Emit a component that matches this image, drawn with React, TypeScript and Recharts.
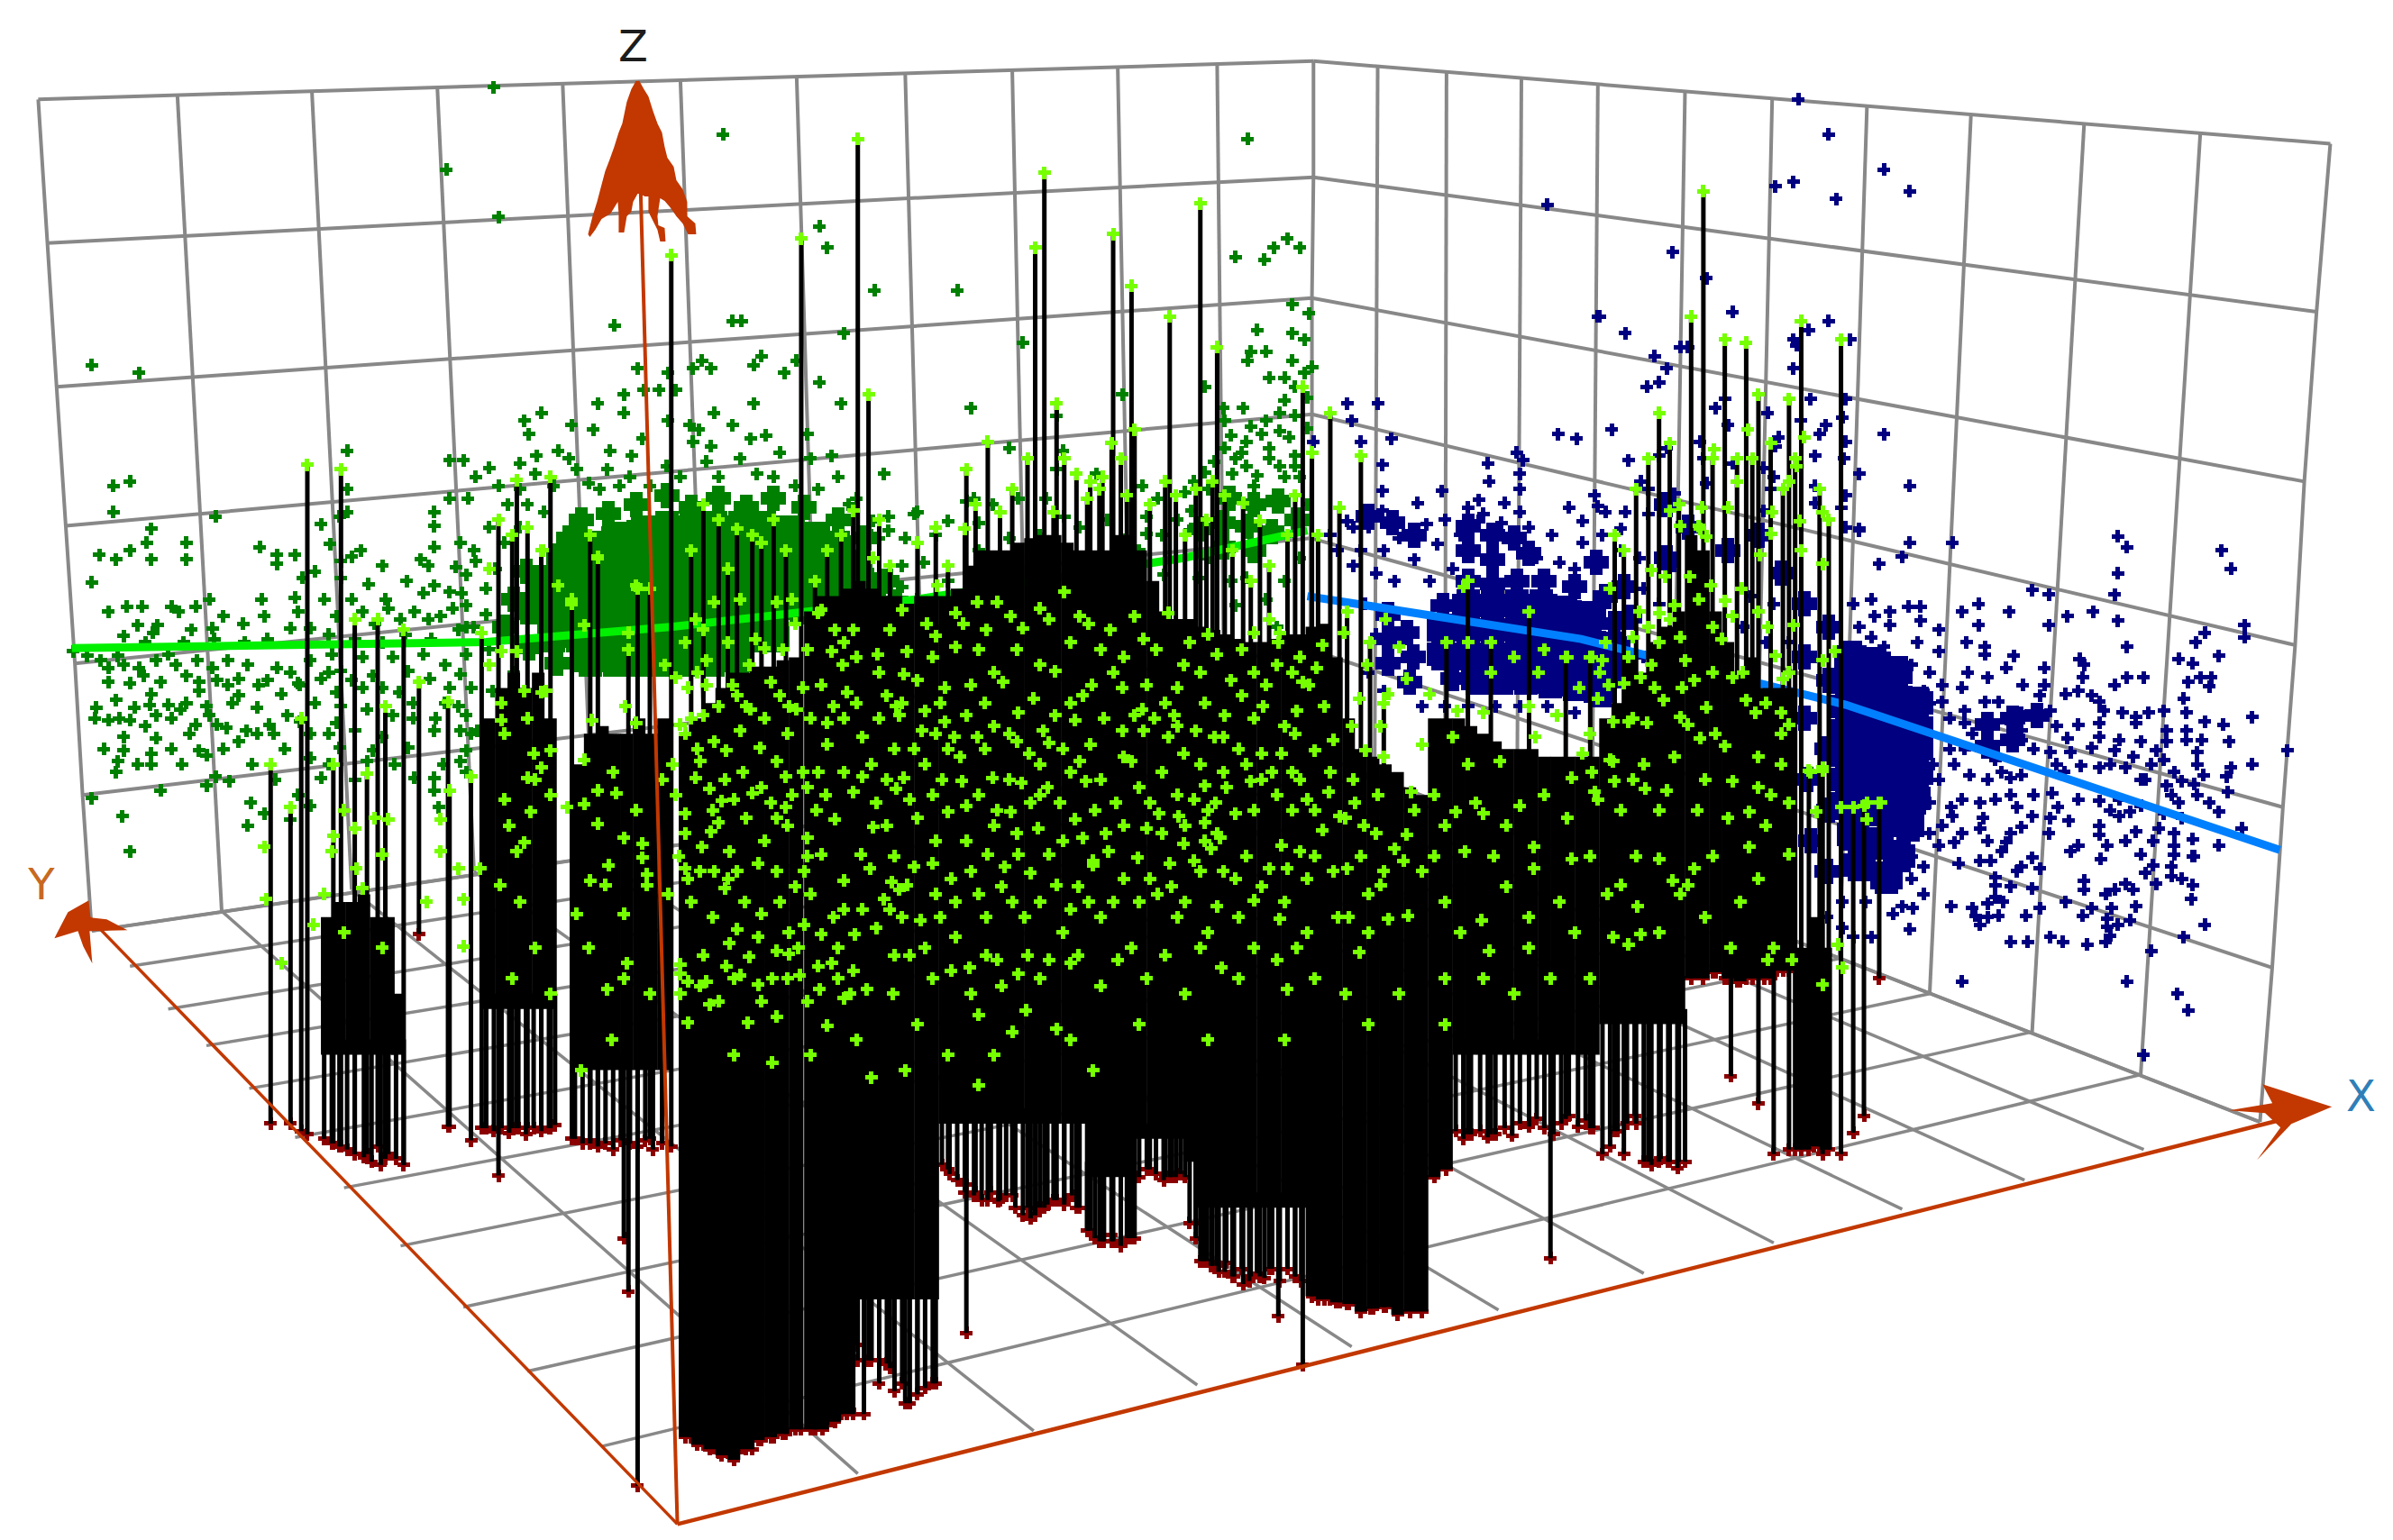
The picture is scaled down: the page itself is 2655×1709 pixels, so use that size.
import React from 'react';
import { ScatterChart, Scatter, XAxis, YAxis, ErrorBar, ReferenceDot } from 'recharts';

type Pair = number[];

// everything in one projected plane: [across, down]
const wallTop: Pair[] = [[25, 65], [859, 40], [1524, 94]];
const leftEdge: Pair[] = [[25, 65], [31, 159], [37, 253], [43, 344], [49, 434], [54, 520], [60, 609]];
const backEdge: Pair[] = [[859, 40], [859, 116], [858, 195], [858, 271], [857, 352], [857, 425], [857, 492]];
const rightEdge: Pair[] = [[1524, 94], [1515, 204], [1507, 315], [1501, 422], [1493, 528], [1486, 633], [1478, 734]];

const leftTopX = [116, 204, 286, 368, 445, 521, 592, 662, 731, 796];
const leftTopY = [62, 60, 57, 55, 53, 50, 48, 46, 44, 42];
const leftFootX = [145, 230, 310, 388, 463, 536, 605, 672, 740, 801];
const leftFootY = [596, 582, 570, 559, 548, 537, 527, 517, 507, 498];

const rightTopX = [901, 946, 995, 1045, 1102, 1159, 1221, 1289, 1363, 1439];
const rightTopY = [43, 47, 51, 55, 59, 64, 69, 75, 81, 87];
const rightFootX = [899, 945, 992, 1041, 1093, 1147, 1203, 1262, 1329, 1400];
const rightFootY = [508, 526, 545, 564, 584, 605, 627, 650, 675, 703];

const yAxisTickX = [85, 110, 135, 163, 193, 225, 262, 303, 345, 394];
const yAxisTickY = [632, 660, 684, 712, 744, 777, 815, 855, 897, 946];
const xAxisTickX = [561, 676, 783, 884, 980, 1075, 1160, 1244, 1324, 1402];
const xAxisTickY = [964, 936, 906, 881, 857, 833, 813, 791, 772, 752];

const zAxis: Pair[] = [[443, 997], [417, 53]];
const yAxisLine: Pair[] = [[443, 997], [58, 600]];
const xAxisLine: Pair[] = [[443, 997], [1490, 733]];

const greenTrend: Pair[] = [[47, 424], [318, 420], [440, 410], [600, 392], [774, 365], [855, 347]];
const blueTrend: Pair[] = [[855, 390], [1034, 418], [1207, 461], [1491, 556]];

const greenPoints: Pair[] = [
  [323, 57], [292, 111], [326, 142], [473, 88], [60, 239], [91, 244], [402, 213], [479, 210], [485, 210], [459, 236], [498, 233], [417, 241], [437, 244], [453, 241], [465, 241], [493, 239], [513, 244], [521, 236], [421, 255], [431, 255], [442, 255], [408, 258], [391, 264], [493, 264], [354, 270], [343, 275], [408, 270], [346, 284], [374, 278], [388, 281], [437, 275], [451, 278], [479, 278], [467, 270], [457, 281], [420, 287], [491, 287], [501, 285], [453, 289], [465, 292], [227, 295], [294, 301], [303, 301], [365, 295], [351, 298], [399, 295], [413, 298], [340, 303], [320, 306], [311, 312], [377, 307], [397, 307], [74, 318], [85, 315], [326, 318], [227, 320], [294, 326], [306, 326], [74, 335], [141, 338], [227, 335], [222, 338], [284, 335], [284, 344], [99, 346], [210, 343],
  [96, 355], [122, 355], [85, 360], [65, 363], [76, 366], [99, 366], [122, 366], [170, 358], [181, 363], [193, 363], [181, 369], [60, 381], [198, 378], [171, 392], [193, 391], [137, 392], [71, 400], [83, 397], [93, 397], [112, 397], [128, 397], [117, 400], [146, 403], [90, 409], [103, 409], [125, 412], [100, 414], [159, 408], [173, 403], [190, 411], [81, 416], [139, 411],
  [48, 426], [57, 429], [77, 429], [71, 437], [81, 435], [91, 437], [102, 432], [115, 435], [129, 432], [139, 437], [149, 432], [162, 435], [181, 437], [156, 444], [169, 448], [71, 446], [85, 447], [105, 446], [130, 446], [130, 452], [149, 448], [184, 454], [195, 447], [99, 454], [76, 458], [63, 463], [88, 463], [98, 461], [110, 461], [122, 460], [135, 462], [152, 460], [168, 463], [118, 464], [71, 471], [85, 471], [102, 468], [137, 468], [142, 474], [161, 478], [176, 474], [188, 468], [196, 472], [179, 480], [81, 482], [102, 483], [156, 485], [81, 491], [130, 491], [135, 494], [99, 493], [77, 498], [99, 500], [119, 500], [76, 505], [141, 508], [150, 511], [135, 514], [105, 517], [60, 522], [164, 525], [173, 532], [80, 534], [162, 540], [190, 536], [85, 557],
  [230, 364], [223, 367], [206, 374], [241, 382], [223, 378], [252, 392], [277, 388], [298, 371], [311, 367], [284, 383], [294, 387], [305, 376], [301, 355], [275, 366], [284, 358], [203, 411], [220, 403], [237, 400], [254, 398], [271, 400], [288, 403], [305, 396], [217, 428], [203, 432], [237, 430], [257, 430], [277, 428], [291, 435], [305, 428], [223, 439], [210, 444], [244, 442], [267, 439], [281, 444], [301, 441], [196, 448], [220, 453], [237, 450], [261, 453], [294, 450], [308, 450], [206, 460], [223, 462], [240, 464], [257, 468], [291, 460], [305, 468], [220, 473], [203, 480], [284, 478], [301, 478], [308, 480], [222, 489], [244, 491], [267, 489], [305, 491], [203, 496], [240, 498], [301, 498], [284, 509], [305, 505], [210, 509], [271, 509], [284, 517], [203, 527], [287, 528],
  [816, 91], [572, 190], [626, 190], [536, 148], [541, 162], [842, 156], [833, 162], [850, 162], [808, 168], [827, 170], [845, 199], [856, 205], [552, 218], [669, 224], [822, 216], [845, 218], [853, 222], [818, 230], [828, 230], [816, 236], [845, 236], [536, 250], [550, 264], [635, 267], [734, 258], [788, 253], [830, 247], [840, 247], [853, 244], [847, 253], [840, 262], [800, 267], [813, 267], [837, 270], [847, 272], [691, 272], [660, 293], [695, 295], [544, 298], [578, 310], [801, 293], [830, 293], [843, 286], [801, 275], [818, 279], [828, 275], [837, 282], [815, 289], [825, 284], [808, 300], [815, 305], [822, 311], [837, 305], [847, 298], [847, 305], [850, 312], [794, 302], [788, 309], [781, 315], [747, 318], [757, 326], [717, 310], [666, 326], [691, 307], [637, 326], [649, 330], [598, 336], [620, 341], [581, 338], [571, 341], [696, 338], [750, 338], [779, 334], [600, 335], [581, 347], [551, 340], [537, 347], [632, 328], [750, 349], [734, 353], [778, 347], [784, 378], [815, 378], [818, 362], [761, 376], [808, 396], [828, 392], [835, 410], [734, 392],
  [340, 320], [362, 318], [385, 316], [412, 312], [436, 305], [462, 302], [484, 300], [510, 296], [530, 300], [548, 312], [528, 284], [506, 312], [560, 326], [332, 330], [356, 335], [320, 345], [310, 360], [324, 372], [302, 388], [318, 402], [320, 425], [336, 440], [322, 452], [300, 462], [312, 478], [592, 352], [604, 368], [590, 384], [576, 400], [612, 350], [640, 342], [660, 352], [684, 326], [706, 345], [724, 340],
  [66, 432], [94, 442], [110, 428], [122, 442], [142, 445], [156, 455], [175, 445], [190, 440], [62, 470], [78, 470], [95, 475], [112, 470], [128, 474], [148, 476], [168, 480], [186, 490], [68, 490], [90, 500], [112, 490], [124, 480], [146, 490], [165, 500], [180, 510], [195, 520], [215, 440], [230, 445], [250, 450], [270, 460], [285, 470], [215, 480], [232, 478], [250, 482], [270, 470], [215, 500], [232, 510], [258, 500], [290, 500], [250, 420], [265, 415], [215, 415], [232, 418], [282, 418], [300, 412], [160, 420], [175, 418], [120, 420], [95, 420], [140, 418], [195, 400], [212, 392], [230, 392], [245, 408], [262, 405], [280, 405], [296, 398], [310, 410], [280, 370], [266, 380], [250, 370], [236, 360], [216, 356],
  [350, 310], [372, 300], [392, 320], [405, 318], [425, 318], [445, 312], [470, 312], [495, 310], [520, 318], [535, 320], [555, 330], [570, 350], [340, 345], [330, 355], [345, 330], [318, 385], [305, 410], [575, 352], [590, 370], [600, 392], [610, 410], [620, 380], [640, 360], [660, 370], [680, 350], [700, 362], [720, 375], [805, 285], [812, 296], [830, 300], [840, 312], [820, 318], [806, 310], [790, 320], [775, 322], [770, 340], [760, 350], [745, 360], [790, 365], [805, 380], [840, 380], [850, 365], [855, 330], [855, 280], [855, 260], [858, 240]
];

const greenBulk: Pair[] = [
  [388, 358], [404, 352], [420, 348], [436, 345], [452, 345], [468, 345], [484, 345], [500, 345], [516, 348], [532, 352], [548, 358],
  [368, 366], [384, 362], [400, 362], [416, 362], [432, 362], [448, 362], [464, 362], [480, 362], [496, 362], [512, 362], [528, 362], [544, 362], [560, 370],
  [356, 380], [372, 380], [388, 380], [404, 380], [420, 380], [436, 380], [452, 380], [468, 380], [484, 380], [500, 380], [516, 380], [532, 380], [548, 380], [564, 382],
  [348, 398], [364, 398], [380, 398], [396, 398], [412, 398], [428, 398], [444, 398], [460, 398], [476, 398], [492, 398], [508, 398], [524, 398], [540, 398], [556, 398], [572, 398],
  [362, 416], [378, 416], [394, 416], [410, 416], [426, 416], [442, 416], [458, 416], [474, 416], [490, 416], [506, 416],
  [386, 432], [402, 432], [418, 432], [434, 432], [450, 432], [466, 432], [482, 432]
];

const greenPatches: Pair[] = [
  [416, 330], [436, 324], [452, 332], [470, 326], [488, 332], [506, 326], [526, 332], [380, 340], [398, 336], [548, 340], [566, 352], [372, 352], [344, 374], [336, 392], [330, 410], [346, 424], [364, 434], [580, 380], [586, 394],
  [804, 326], [820, 330], [836, 328], [848, 340], [816, 344], [832, 348], [800, 342], [786, 346], [820, 360], [800, 358]
];

const navyPoints: Pair[] = [
  [1176, 65], [1196, 88], [1232, 111], [1249, 125], [1161, 122], [1173, 119], [1201, 130], [1094, 165], [1116, 182], [1045, 207], [1133, 204], [1063, 218], [1196, 210], [1183, 216], [1173, 222], [1210, 222], [1175, 226], [1099, 227], [1104, 227], [1082, 233], [1090, 241], [1173, 241], [1085, 250], [1077, 253], [1184, 261], [1207, 261], [1128, 261], [1122, 267], [1156, 270], [1205, 273], [1178, 275], [1054, 281], [1232, 284], [1130, 278], [1194, 278], [1190, 284], [1163, 286], [1112, 289], [1090, 293], [1207, 289], [1161, 292], [1085, 298], [1187, 298], [1206, 300], [1065, 301], [1114, 300], [1133, 303], [1153, 306], [1216, 310], [1160, 312], [1073, 315], [1116, 316], [1249, 318], [1187, 318], [1158, 320], [1207, 324], [1043, 324], [1078, 320], [1095, 323], [1187, 329], [1204, 332], [1045, 331], [1050, 335], [1063, 335], [1078, 336], [1153, 334], [1207, 345], [1216, 346], [1060, 346],
  [1012, 134], [1046, 207], [881, 264], [901, 264], [884, 275], [910, 287], [890, 289], [859, 289], [1019, 284], [1031, 287], [1054, 281], [992, 296], [996, 301], [973, 303], [904, 304], [994, 310], [974, 315], [994, 320], [904, 321], [943, 321], [967, 327], [927, 329], [904, 334], [960, 332], [984, 329], [994, 335], [1026, 332], [1035, 341], [881, 341], [933, 343], [967, 341],
  [1216, 347], [1249, 355], [1277, 355], [1244, 364], [1229, 369], [1385, 351], [1391, 358], [1453, 360], [1459, 372], [1385, 375], [1329, 386], [1340, 389], [1383, 389], [1294, 395], [1283, 400], [1314, 400], [1352, 403], [1369, 400], [1385, 406], [1340, 409], [1294, 409], [1224, 392], [1236, 400], [1248, 397], [1256, 397], [1226, 403], [1236, 409], [1256, 406], [1268, 412], [1468, 409], [1442, 414], [1468, 417], [1436, 420], [1224, 417], [1254, 420], [1286, 420], [1298, 423], [1391, 423], [1232, 423], [1268, 426], [1298, 428], [1317, 429], [1360, 431], [1451, 429], [1425, 431], [1434, 434], [1363, 435], [1337, 437], [1312, 437], [1287, 440], [1391, 443], [1402, 443], [1439, 443], [1446, 443], [1300, 443], [1362, 443], [1431, 446], [1383, 448], [1323, 448], [1337, 448], [1445, 449], [1283, 450], [1258, 452], [1270, 448], [1359, 452], [1368, 455], [1351, 454], [1428, 457], [1334, 455], [1373, 459], [1298, 459], [1307, 459], [1270, 459], [1473, 469], [1430, 466], [1388, 466], [1397, 469], [1405, 466], [1415, 465], [1341, 465], [1285, 465], [1322, 466], [1376, 465], [1442, 472], [1454, 474], [1359, 474], [1373, 473], [1315, 473], [1322, 478], [1285, 473], [1417, 478], [1430, 478], [1397, 473], [1458, 485], [1417, 485], [1430, 484], [1440, 484], [1373, 482], [1386, 484], [1400, 485], [1352, 483], [1322, 484], [1341, 492], [1354, 492], [1410, 491], [1437, 492], [1368, 489], [1383, 491], [1496, 491], [1473, 500], [1459, 502], [1437, 500], [1361, 501], [1373, 502], [1390, 502], [1407, 500], [1278, 500], [1305, 497], [1309, 505], [1422, 505], [1441, 507], [1456, 508], [1288, 507], [1315, 509], [1322, 507], [1258, 510], [1268, 510], [1403, 510], [1417, 514], [1427, 511], [1435, 513], [1457, 518], [1342, 519], [1283, 523], [1359, 523], [1373, 524], [1386, 523], [1400, 527], [1437, 520], [1451, 531], [1305, 523], [1315, 520], [1295, 525], [1346, 528], [1276, 528], [1319, 528], [1393, 531], [1415, 532], [1427, 535], [1277, 534], [1297, 535], [1329, 534], [1341, 535], [1353, 537], [1373, 540], [1386, 534], [1322, 541], [1315, 545], [1295, 542], [1397, 544], [1412, 542], [1422, 545], [1466, 542], [1283, 545], [1373, 546], [1390, 550], [1434, 549], [1268, 553], [1278, 551], [1312, 551], [1408, 550], [1422, 553], [1451, 553], [1359, 553], [1378, 553], [1400, 559], [1434, 560], [1422, 559], [1354, 557], [1309, 557], [1302, 563], [1329, 561], [1322, 567], [1374, 562], [1281, 565], [1258, 567], [1295, 563], [1408, 566], [1420, 567], [1334, 568], [1403, 571], [1305, 574], [1319, 570], [1420, 573], [1427, 575], [1363, 576], [1363, 582], [1390, 578], [1410, 578], [1434, 579], [1305, 579], [1315, 580], [1329, 581], [1383, 582], [1395, 582], [1258, 585], [1377, 585], [1305, 587], [1433, 588], [1244, 593], [1251, 594], [1276, 593], [1290, 594], [1334, 594], [1351, 590], [1300, 591], [1368, 594], [1381, 594], [1397, 593], [1238, 598], [1292, 599], [1307, 599], [1325, 599], [1362, 599], [1378, 601], [1393, 602], [1295, 605], [1442, 605], [1378, 606], [1385, 605], [1249, 608], [1205, 607], [1212, 613], [1224, 613], [1380, 612], [1341, 613], [1315, 616], [1326, 616], [1349, 616], [1428, 613], [1365, 618], [1377, 616], [1407, 622], [1283, 642], [1391, 642], [1424, 650], [1431, 661], [1402, 690],
  [895, 345], [905, 360], [915, 352], [925, 366], [940, 356], [950, 372], [935, 380], [912, 380], [900, 375], [890, 360], [945, 340], [955, 350], [970, 336], [982, 342], [1000, 345], [1015, 350], [1005, 365], [1020, 368], [1035, 355], [1048, 350], [1060, 360], [1030, 372], [1072, 365], [1075, 385], [1095, 370], [1112, 380], [1085, 395], [1145, 390], [1160, 395], [1140, 410], [1155, 420], [1125, 430], [1170, 420], [1110, 415], [1060, 430], [1075, 430], [1095, 445], [900, 415], [895, 440], [930, 462], [945, 462], [960, 462], [978, 462], [994, 462], [1012, 462], [1030, 466], [905, 452], [893, 395], [885, 370], [875, 360], [885, 345], [870, 350], [1212, 395], [1200, 410], [1216, 410], [1250, 435], [1262, 440], [1275, 470], [1262, 460], [1275, 490], [1290, 480], [1285, 490], [1264, 500], [1262, 525], [1262, 545], [1270, 540], [1250, 560], [1240, 580], [1220, 590], [1205, 590], [1195, 600], [1250, 575], [1300, 510], [1330, 490], [1345, 475], [1345, 500], [1380, 500], [1395, 495], [1415, 497], [1425, 525], [1350, 505], [1330, 520], [1300, 550], [1400, 510], [1420, 520], [1445, 525], [1380, 530], [1435, 560], [1340, 545], [1310, 590], [1300, 600]
];

const navyBulk: Pair[] = [
  [1210, 430], [1226, 434], [1240, 440], [1208, 446], [1224, 450], [1240, 456], [1254, 460], [1208, 462], [1224, 466], [1240, 472], [1254, 476], [1208, 478], [1224, 482], [1240, 488], [1254, 490], [1208, 494], [1224, 498], [1240, 504], [1254, 506], [1208, 510], [1224, 514], [1240, 520], [1252, 522], [1208, 526], [1224, 530], [1240, 536], [1248, 540], [1212, 546], [1228, 552], [1242, 560], [1216, 566], [1234, 574],
  [944, 412], [960, 412], [976, 412], [992, 412], [1008, 412], [1024, 416], [1040, 420], [1056, 424], [944, 428], [960, 428], [976, 428], [992, 428], [1008, 428], [1024, 432], [1040, 436], [1056, 440], [966, 444], [982, 444], [998, 444], [1014, 446], [1030, 448], [1046, 452], [960, 396], [976, 396], [992, 396], [1008, 396], [1024, 400], [1040, 404]
];

const navyPatches: Pair[] = [
  [1300, 474], [1316, 470], [1332, 468], [1300, 488], [1316, 484],
  [895, 338], [911, 342], [925, 350], [960, 344], [976, 350], [960, 360], [976, 366], [990, 352], [1000, 362],
  [908, 402], [920, 414], [908, 418], [924, 430], [908, 434], [922, 446], [944, 396], [1056, 408], [950, 444],
  [960, 380], [976, 382], [992, 380], [1010, 380], [1030, 384], [1050, 390], [1044, 368], [1062, 384], [1066, 404],
  [1090, 330], [1104, 345], [1130, 360], [1150, 350], [1090, 365], [1165, 375], [1180, 395], [1196, 410], [1180, 430], [1196, 445], [1180, 470], [1195, 490], [1182, 510], [1196, 530], [1184, 550], [1195, 570]
];

// [across, top, foot] for every stem
const denseStems: number[][] = [
  [448, 480, 940], [456, 470, 945], [464, 460, 948], [472, 450, 952], [480, 440, 955], [488, 440, 948], [496, 436, 942], [504, 436, 940], [512, 432, 938], [520, 430, 935],
  [530, 400, 935], [538, 390, 935], [546, 390, 930], [554, 385, 925],
  [858, 410, 848], [866, 408, 850], [874, 430, 852], [882, 470, 853], [890, 490, 858], [898, 495, 856], [906, 500, 855], [914, 505, 860], [922, 515, 858], [930, 520, 858], [938, 470, 770], [946, 470, 765],
  [1106, 350, 640], [1114, 360, 640], [1122, 400, 636], [1130, 420, 640], [1138, 440, 642], [1146, 430, 640], [1154, 450, 640], [1162, 450, 635], [1170, 450, 635],
  [1178, 620, 752], [1186, 600, 750], [1194, 620, 752]
];

// the solid upper part of columns that break into separate stems further down
const coreStems: number[][] = [
  [214, 600, 690], [222, 590, 690], [230, 590, 690], [238, 585, 690], [246, 600, 690], [254, 600, 690], [260, 650, 690],
  [320, 470, 660], [328, 450, 660], [336, 440, 660], [344, 450, 660], [352, 440, 660], [360, 470, 660],
  [378, 500, 700], [386, 480, 700], [394, 475, 700], [402, 480, 700], [410, 480, 700], [418, 470, 700], [426, 480, 700], [434, 470, 700],
  [562, 380, 850], [570, 385, 850], [578, 390, 850], [586, 390, 850], [594, 395, 850], [602, 390, 850], [610, 390, 850],
  [618, 390, 735], [626, 385, 735], [634, 370, 735], [642, 360, 735], [650, 360, 735], [658, 360, 735], [666, 355, 735], [674, 352, 735], [682, 350, 735], [690, 350, 735], [698, 355, 735], [706, 360, 735], [714, 360, 770], [722, 360, 770], [730, 350, 770], [738, 350, 770], [746, 360, 745], [754, 380, 745], [762, 400, 745], [770, 405, 745], [778, 405, 760],
  [786, 410, 790], [794, 412, 790], [802, 415, 790], [810, 418, 790], [818, 420, 790], [826, 420, 790], [834, 418, 790], [842, 415, 790], [850, 415, 790],
  [954, 470, 690], [962, 475, 690], [970, 480, 690], [978, 485, 690], [986, 490, 690], [994, 490, 690], [1002, 490, 690], [1010, 495, 690], [1018, 495, 690], [1026, 495, 690], [1034, 495, 690], [1042, 495, 690],
  [1050, 470, 670], [1058, 460, 670], [1066, 430, 670], [1074, 440, 670], [1082, 420, 670], [1090, 410, 670], [1098, 400, 670]
];

const footStems: number[][] = [
  [212, 680, 745], [217, 680, 748], [222, 680, 750], [227, 680, 752], [232, 680, 755], [238, 680, 757], [243, 680, 760], [249, 680, 762], [254, 680, 755], [259, 680, 758], [264, 680, 762],
  [318, 650, 738], [323, 650, 740], [328, 650, 738], [333, 650, 741], [339, 650, 738], [344, 650, 742], [349, 650, 738], [354, 650, 740], [359, 650, 738], [363, 650, 736],
  [376, 690, 745], [381, 690, 748], [386, 690, 746], [391, 690, 750], [396, 690, 748], [401, 690, 752], [406, 690, 746], [412, 690, 748], [417, 690, 750], [422, 690, 746], [427, 690, 752], [433, 690, 748],
  [560, 840, 880], [565, 840, 925], [570, 840, 890], [575, 840, 905], [580, 840, 892], [585, 840, 910], [590, 840, 905], [595, 840, 918], [600, 840, 912], [605, 840, 908], [610, 840, 905],
  [616, 725, 762], [621, 725, 768], [626, 725, 772], [632, 725, 775], [637, 725, 782], [642, 725, 785], [648, 725, 780], [653, 725, 786], [658, 725, 782], [664, 725, 790], [669, 725, 795], [674, 725, 797], [680, 725, 790], [685, 725, 788], [690, 725, 785], [696, 725, 788], [701, 725, 782], [706, 725, 790],
  [711, 760, 805], [716, 760, 810], [722, 760, 812], [727, 760, 808], [733, 760, 815], [738, 760, 810],
  [745, 735, 770], [750, 735, 765], [756, 735, 768], [761, 735, 772], [766, 735, 770], [772, 735, 768], [778, 750, 800], [782, 750, 810],
  [787, 780, 825], [792, 780, 828], [797, 780, 832], [802, 780, 826], [807, 780, 835], [812, 780, 830], [817, 780, 838], [822, 780, 833], [827, 780, 836], [832, 780, 830], [837, 780, 838], [842, 780, 830], [847, 780, 835], [851, 780, 838],
  [952, 680, 740], [957, 680, 745], [962, 680, 742], [968, 680, 740], [973, 680, 744], [978, 680, 742], [984, 680, 738], [989, 680, 743], [994, 680, 735], [1000, 680, 737], [1005, 680, 732], [1010, 680, 738], [1016, 680, 742], [1021, 680, 735], [1026, 680, 730], [1032, 680, 737], [1037, 680, 733], [1042, 680, 738],
  [1048, 660, 755], [1053, 660, 750], [1058, 660, 740], [1064, 660, 735], [1069, 660, 730], [1075, 660, 760], [1080, 660, 762], [1086, 660, 758], [1091, 660, 760], [1097, 660, 764], [1102, 660, 760]
];

const tallStems: number[][] = [
  [561, 91, 890], [683, 113, 790], [728, 153, 812], [785, 133, 825], [677, 162, 795], [740, 187, 810], [765, 207, 770], [796, 227, 828], [852, 253, 893], [568, 258, 890], [691, 264, 785], [646, 289, 785], [742, 281, 810], [870, 270, 850], [858, 296, 848], [890, 298, 858], [632, 307, 872],
  [439, 167, 750], [524, 156, 935], [201, 304, 742], [223, 307, 750], [338, 314, 738], [360, 312, 738],
  [1114, 125, 640], [1178, 210, 752], [1128, 222, 640], [1142, 224, 640], [1204, 222, 755], [1150, 258, 722], [1170, 261, 752], [1085, 270, 760], [1106, 207, 640],
  [177, 500, 735], [190, 528, 735], [197, 470, 740], [218, 500, 748], [232, 405, 755], [240, 506, 755], [247, 405, 750], [252, 462, 758], [264, 412, 762], [274, 446, 611], [294, 517, 737], [293, 459, 737], [308, 508, 746], [315, 414, 738], [326, 340, 769], [335, 350, 738], [345, 345, 738], [354, 360, 738],
  [374, 395, 745], [386, 350, 748], [391, 365, 748], [411, 425, 845], [417, 385, 972], [425, 385, 745], [482, 346, 950], [492, 350, 948],
  [558, 334, 925], [631, 346, 780], [654, 335, 785], [689, 335, 785], [713, 315, 805], [721, 312, 812], [719, 320, 812], [711, 326, 805], [737, 324, 810], [762, 315, 770], [769, 324, 770], [793, 315, 828], [801, 324, 832], [813, 329, 840], [824, 341, 835], [847, 324, 835], [876, 332, 852], [836, 420, 861],
  [1132, 620, 704], [1212, 528, 741], [1219, 527, 730], [1229, 525, 640], [1192, 504, 755], [1183, 504, 752], [1160, 620, 755], [1014, 640, 823], [592, 700, 918], [556, 650, 922], [408, 640, 810], [1098, 330, 760], [1062, 360, 755],
  [452, 360, 940], [460, 330, 945], [470, 340, 950], [476, 372, 950], [498, 355, 942], [506, 340, 940], [514, 360, 938], [533, 380, 935], [541, 360, 932], [550, 350, 925], [575, 340, 890], [582, 370, 895], [600, 355, 912], [612, 345, 905], [620, 370, 765], [638, 330, 780], [662, 320, 782], [672, 300, 790], [696, 300, 785], [704, 310, 790], [727, 290, 812], [733, 300, 812], [752, 330, 765], [775, 350, 770], [782, 320, 800], [789, 340, 825], [806, 360, 835], [818, 380, 835], [830, 370, 830], [842, 350, 830], [862, 350, 850], [881, 400, 853], [896, 420, 856], [905, 460, 855], [946, 420, 765], [960, 380, 742], [975, 420, 742], [1000, 400, 735], [1024, 430, 732], [1040, 430, 738], [1056, 350, 740], [1070, 320, 735], [1078, 300, 760], [1092, 290, 760], [1120, 300, 636], [1136, 300, 642], [1146, 300, 640], [1158, 290, 640], [1166, 320, 635], [1174, 300, 752], [1196, 340, 752], [1190, 320, 750]
];

const limePoints: Pair[] = [
  [537, 399], [558, 412], [544, 426], [551, 435], [537, 448], [554, 453], [541, 473], [564, 482], [541, 487], [552, 505], [564, 508], [558, 518], [546, 536], [573, 525], [571, 541], [537, 559], [563, 559], [569, 568], [552, 576], [583, 577], [593, 579], [578, 588], [564, 595], [602, 602], [537, 611], [573, 607], [559, 611], [625, 613], [544, 630], [536, 647], [567, 647], [584, 650], [552, 653], [640, 664], [541, 671], [671, 661], [691, 673], [662, 675],
  [591, 509], [629, 511], [595, 523], [620, 531], [649, 509], [632, 527], [661, 531], [674, 525], [693, 525], [710, 511], [703, 536], [723, 545], [750, 542], [679, 542], [632, 550], [646, 559], [666, 559], [686, 559], [708, 548], [725, 557], [715, 563], [744, 561], [774, 552], [788, 538], [788, 550], [771, 534], [781, 523], [808, 532], [838, 553], [850, 557], [876, 534], [865, 543], [835, 520], [855, 523], [869, 518], [818, 511], [788, 514], [901, 520], [920, 546],
  [598, 567], [622, 575], [657, 567], [674, 571], [691, 579], [715, 566], [757, 585], [781, 563], [796, 593], [820, 589], [837, 601], [882, 600], [908, 601], [921, 599], [903, 579], [830, 568], [842, 568], [855, 575], [881, 568], [918, 563], [969, 602], [938, 560], [958, 557], [977, 560], [1003, 554], [1028, 562], [1003, 568], [974, 622], [889, 623], [835, 628], [799, 633], [731, 628], [686, 628], [700, 630], [652, 628], [634, 633], [666, 637], [842, 647], [915, 650],
  [624, 482], [588, 468], [603, 478], [639, 482], [673, 493], [690, 468], [703, 471], [734, 478], [713, 487], [740, 498], [764, 482], [774, 493], [794, 482], [838, 493], [825, 493], [847, 480], [860, 491], [872, 484], [884, 475], [893, 491], [903, 475], [866, 462], [828, 448], [801, 468], [750, 448], [774, 435], [788, 460], [734, 450], [747, 464], [700, 460], [690, 439], [676, 457], [656, 446], [666, 466], [635, 448], [618, 450], [615, 460], [591, 441], [590, 460],
  [535, 401], [574, 428], [593, 426], [625, 423], [652, 394], [661, 403], [669, 411], [639, 394], [625, 401], [590, 399], [613, 383], [571, 365], [696, 387], [706, 403], [742, 403], [764, 401], [830, 405], [820, 414], [837, 414], [756, 425], [796, 428], [865, 422], [879, 414], [861, 437], [852, 446], [906, 405], [915, 423], [894, 435], [920, 444], [908, 454], [889, 457], [935, 454], [953, 465], [970, 466], [1000, 462], [1018, 468], [957, 384], [1053, 385], [1006, 440], [1033, 450], [1045, 457], [950, 482], [930, 487], [960, 500], [981, 498], [1004, 482], [1035, 493], [1055, 498], [1028, 509], [952, 531], [970, 532], [994, 527], [1045, 523], [923, 518], [938, 520],
  [450, 450], [467, 394], [484, 392], [508, 394], [518, 392], [435, 435], [442, 443], [479, 448], [504, 446], [525, 450], [409, 462], [387, 471], [416, 473], [445, 474], [460, 468], [491, 464], [521, 464], [467, 485], [497, 489], [475, 491], [349, 493], [360, 491], [382, 497], [354, 502], [401, 505], [350, 510], [391, 517], [403, 519], [433, 510], [455, 509], [508, 498], [514, 508], [525, 505], [464, 516], [480, 523], [492, 519], [504, 525], [416, 530], [371, 528], [382, 526], [391, 539], [408, 548], [343, 551], [333, 540], [420, 552], [465, 544], [448, 532], [528, 548], [477, 557], [459, 554], [420, 561], [448, 568], [398, 566], [423, 572], [467, 570], [386, 576], [396, 579], [423, 579], [474, 581], [437, 585], [487, 590], [526, 570], [377, 598], [408, 598], [496, 613], [516, 610], [526, 605], [477, 617], [508, 622], [516, 624], [445, 631], [445, 637], [450, 642], [462, 642], [484, 638], [496, 644], [523, 638], [397, 647], [464, 657], [508, 665], [450, 669], [489, 669],
  [173, 554], [218, 547], [217, 557], [232, 542], [225, 530], [245, 535], [254, 536], [288, 536], [347, 531], [330, 523], [345, 509], [328, 471], [338, 426], [320, 435], [328, 426], [354, 453], [343, 452], [328, 460], [357, 452], [365, 383], [374, 392], [382, 409], [391, 364], [320, 372], [355, 360], [411, 414], [416, 383], [233, 568], [250, 559], [300, 568], [314, 568], [303, 588], [279, 590], [237, 581], [212, 585], [174, 588], [205, 605], [303, 619], [184, 630], [327, 579], [288, 557], [338, 557],
  [1092, 334], [1113, 332], [1130, 332], [1159, 335], [1192, 335], [1099, 344], [1111, 344], [1175, 305], [1170, 315], [1136, 315], [1121, 294], [1180, 286], [1143, 281], [1177, 341], [1112, 346], [1116, 351], [1158, 349], [1151, 363], [1178, 360], [1192, 369], [1080, 373], [1089, 377], [1105, 377], [1119, 383], [1139, 385], [1111, 392], [1128, 393], [1095, 396], [1085, 401], [1133, 403], [1173, 409], [1068, 417], [1099, 417], [1200, 426], [1041, 430], [1048, 432], [1080, 435], [1102, 432], [1161, 429], [1192, 432], [1073, 443], [1133, 443], [1166, 444], [1062, 447], [1116, 463], [1165, 466], [1099, 469], [1077, 473], [1055, 472], [1065, 472], [1104, 474], [1170, 474], [1165, 480], [1040, 480], [1112, 483], [1053, 497], [1184, 505], [1192, 502], [1041, 505], [1056, 511], [1133, 511], [1090, 517], [1043, 518], [1170, 525], [1144, 531], [1204, 528], [1221, 525], [1230, 525], [1188, 531], [1221, 536], [1144, 554], [1170, 559], [1085, 562], [1108, 568], [1094, 576], [1060, 579], [1104, 579], [1051, 585], [1099, 585], [1138, 590], [1071, 593], [1073, 611], [1065, 618], [1055, 613], [1202, 618], [1172, 628], [1205, 633], [1192, 644], [1156, 628],
  [448, 420], [462, 432], [476, 420], [490, 435], [512, 425], [528, 425], [452, 470], [470, 462], [484, 478], [500, 470], [515, 480], [530, 470], [440, 500], [458, 498], [474, 510], [486, 505], [498, 515], [518, 520], [535, 505], [448, 545], [470, 538], [488, 535], [500, 550], [515, 540], [540, 520], [452, 590], [466, 600], [482, 608], [498, 598], [510, 590], [530, 585], [545, 600], [460, 625], [475, 632], [490, 626], [505, 640], [522, 620], [535, 632], [548, 620],
  [560, 430], [575, 440], [600, 445], [610, 430], [640, 425], [650, 440], [665, 425], [680, 435], [700, 420], [720, 425], [735, 430], [770, 450], [785, 440], [805, 445], [820, 440], [835, 435], [850, 430], [560, 460], [575, 470], [605, 465], [620, 490], [650, 475], [665, 485], [680, 500], [695, 490], [722, 470], [735, 495], [755, 470], [770, 475], [785, 500], [810, 490], [820, 470], [848, 465],
  [570, 500], [585, 490], [605, 500], [640, 520], [660, 510], [685, 515], [720, 510], [730, 525], [745, 515], [760, 505], [800, 505], [825, 510], [845, 505], [870, 505], [885, 510], [905, 495], [580, 540], [600, 535], [612, 550], [650, 540], [665, 545], [695, 550], [735, 540], [760, 545], [775, 540], [795, 525], [820, 530], [845, 530], [880, 535], [900, 545], [925, 530],
  [585, 560], [610, 565], [635, 570], [655, 580], [705, 580], [735, 575], [765, 565], [785, 570], [800, 570], [815, 560], [825, 580], [860, 560], [890, 560], [905, 570], [945, 540], [965, 525], [985, 540], [1010, 520], [1025, 535], [590, 600], [615, 600], [645, 600], [670, 600], [695, 610], [720, 600], [745, 590], [770, 600], [790, 610], [810, 600], [855, 610], [875, 600], [895, 610], [945, 590], [955, 610], [985, 580], [1000, 600], [1020, 590], [1040, 560],
  [585, 625], [610, 640], [635, 650], [655, 645], [720, 645], [750, 640], [775, 650], [810, 640], [860, 640], [880, 650], [945, 640], [970, 640], [1000, 620], [1030, 610], [560, 680], [600, 670], [620, 690], [650, 690], [700, 680], [745, 670], [790, 680], [840, 680], [895, 670], [945, 670], [990, 650], [480, 690], [505, 695], [530, 690], [570, 705], [640, 710], [715, 700],
  [960, 420], [975, 440], [990, 430], [1010, 425], [1025, 430], [1050, 420], [1065, 430], [1085, 420], [1100, 450], [1120, 440], [1140, 440], [1155, 460], [1075, 500], [1095, 495], [1115, 510], [1150, 495], [1165, 500], [1060, 530], [1085, 530], [1110, 530], [1130, 535], [1155, 540], [1070, 560], [1120, 560], [1150, 575], [1040, 640], [1085, 610], [1115, 600],
  [330, 480], [345, 470], [360, 520], [340, 590], [350, 620], [385, 620], [410, 630], [425, 650], [225, 610], [250, 620], [335, 640], [360, 650], [400, 680], [380, 700],
  [455, 405], [460, 412], [494, 418], [500, 424], [520, 408], [546, 412], [552, 420], [582, 412], [606, 408], [612, 416], [630, 408], [645, 412], [680, 398], [686, 405], [712, 408], [726, 412], [748, 418], [778, 420], [790, 415], [812, 425], [845, 440],
  [456, 440], [462, 448], [482, 455], [488, 462], [510, 455], [516, 462], [545, 462], [552, 470], [580, 455], [586, 462], [612, 480], [618, 472], [632, 468], [644, 460], [660, 480], [682, 478], [686, 486], [708, 455], [714, 448], [728, 440], [742, 468], [748, 478], [762, 460], [768, 468], [782, 478], [800, 482], [812, 455], [826, 462], [840, 475], [856, 448],
  [448, 480], [456, 490], [466, 530], [472, 524], [508, 535], [514, 528], [528, 515], [534, 530], [580, 510], [586, 516], [598, 490], [610, 520], [616, 510], [628, 495], [644, 490], [652, 530], [668, 512], [680, 520], [700, 505], [706, 498], [716, 530], [752, 525], [758, 532], [770, 520], [790, 530], [796, 545], [802, 515], [815, 500], [832, 505], [850, 510], [860, 530], [886, 525], [892, 540],
  [442, 520], [444, 560], [450, 575], [458, 570], [476, 575], [482, 570], [496, 565], [508, 570], [520, 580], [528, 560], [552, 595], [582, 595], [588, 582], [612, 585], [625, 590], [640, 585], [662, 590], [680, 590], [700, 595], [712, 590], [728, 590], [752, 575], [766, 580], [775, 590], [792, 555], [798, 548], [808, 575], [840, 590], [872, 570], [895, 585], [912, 555], [930, 570],
  [445, 650], [458, 645], [470, 655], [480, 640], [498, 655], [515, 640], [528, 655], [548, 640], [558, 635], [595, 625], [605, 620], [622, 635], [645, 625], [672, 625], [680, 640], [705, 625], [740, 620], [762, 625], [785, 620], [820, 620], [848, 620],
  [1072, 400], [1078, 410], [1092, 405], [1120, 410], [1126, 418], [1150, 400], [1156, 410], [1046, 440], [1052, 448], [1082, 450], [1088, 458], [1108, 445], [1142, 458], [1148, 466], [1170, 440], [1068, 470], [1122, 480], [1128, 488], [1150, 515], [1158, 520], [1068, 510], [1076, 516]
];

const axisNames = ['Z', 'Y', 'X'];
const axisNameAt: Pair[] = [[414, 30], [27, 578], [1544, 717]];
const arrowTips: Pair[] = [[417, 53], [58, 589], [1525, 724]];

const GREY = '#888888';
const RUST = '#c23800';

const toXY = (p: Pair) => ({ x: p[0], y: p[1] });

const wallLines: Pair[][] = [
  wallTop.slice(0, 2),
  wallTop.slice(1),
  leftEdge,
  backEdge,
  rightEdge,
  ...leftEdge.slice(1).map((p, i) => [p, backEdge[i + 1]]),
  ...backEdge.slice(1).map((p, i) => [p, rightEdge[i + 1]]),
  ...leftTopX.map((x, i) => [[x, leftTopY[i]], [leftFootX[i], leftFootY[i]]]),
  ...rightTopX.map((x, i) => [[x, rightTopY[i]], [rightFootX[i], rightFootY[i]]])
];

const floorLines: Pair[][] = [
  ...yAxisTickX.map((x, i) => [[x, yAxisTickY[i]], [rightFootX[i], rightFootY[i]]]),
  ...xAxisTickX.map((x, i) => [[x, xAxisTickY[i]], [leftFootX[i], leftFootY[i]]]),
  [rightEdge[6], backEdge[6]],
  [leftEdge[6], backEdge[6]]
];

const stemData = (list: number[][]) => list.map(s => ({ x: s[0], y: s[1], drop: [0, s[2] - s[1]] }));
const footData = [...denseStems, ...footStems, ...tallStems].map(s => ({ x: s[0], y: s[2] }));
const tipData = tallStems.map(s => ({ x: s[0], y: s[1] }));

const NoMark = () => null;

const plus = (color: string, reach: number, arm: number) => (props: any) => {
  const { cx, cy } = props;
  if (cx == null || cy == null) return <g />;
  const a = arm / 2;
  const d = `M${cx - a} ${cy - reach}H${cx + a}V${cy - a}H${cx + reach}V${cy + a}H${cx + a}V${cy + reach}H${cx - a}V${cy + a}H${cx - reach}V${cy - a}H${cx - a}Z`;
  return <path d={d} fill={color} shapeRendering="crispEdges" />;
};

const arrowOutlines = [
  '-2,0 -7,9 -12,23 -17,47 -21,57 -26,73 -31,87 -36,100 -40,115 -45,134 -50,150 -55,170 -53,173 -47,165 -40,153 -30,147 -22,134 -21,147 -21,168 -15,168 -12,150 -7,145 -5,134 0,125 2,125 8,128 12,128 12,145 17,155 22,165 25,178 31,178 30,163 23,160 22,150 25,130 30,133 36,140 43,150 50,158 56,170 65,170 64,158 55,150 55,134 50,120 43,110 40,95 33,85 30,73 27,57 22,47 17,33 12,17 7,9 2,0',
  '0,0 -23,13 -35,36 -38,42 -12,34 -6,51 4,70 1,34 43,33 20,21 2,19',
  '0,0 -45,19 -83,59 -57,23 -74,7 -114,4 -66,-4 -77,-25'
];

const arrow = (outline: string) => (props: any) => {
  const { cx, cy } = props;
  if (cx == null || cy == null) return <g />;
  return <polygon points={outline} transform={`translate(${cx} ${cy})`} fill={RUST} />;
};

const line = (pts: Pair[], color: string, w: number, key: string, z: number) => (
  <Scatter key={key} zIndex={z} data={pts.map(toXY)} line={{ stroke: color, strokeWidth: w }} shape={NoMark} isAnimationActive={false} />
);

export default function App() {
  return (
    <div style={{ position: 'absolute', left: 0, top: 0, width: 2655, height: 1709, background: '#fff' }}>
      <ScatterChart width={2655} height={1709} margin={{ top: 0, right: 0, bottom: 0, left: 0 }}>
        <XAxis type="number" dataKey="x" domain={[0, 1565]} hide />
        <YAxis type="number" dataKey="y" domain={[0, 1007.4]} reversed hide />

        {wallLines.map((l, i) => line(l, GREY, 4, `w${i}`, 10))}
        {floorLines.map((l, i) => line(l, GREY, 3.5, `f${i}`, 10))}

        <Scatter zIndex={20} data={greenBulk.map(toXY)} shape={plus('#008000', 18, 26)} isAnimationActive={false} />
        <Scatter zIndex={20} data={greenPatches.map(toXY)} shape={plus('#008000', 14, 14)} isAnimationActive={false} />
        <Scatter zIndex={20} data={greenPoints.map(toXY)} shape={plus('#008000', 7, 5)} isAnimationActive={false} />
        <Scatter zIndex={20} data={navyBulk.map(toXY)} shape={plus('#000080', 18, 26)} isAnimationActive={false} />
        <Scatter zIndex={20} data={navyPatches.map(toXY)} shape={plus('#000080', 14, 14)} isAnimationActive={false} />
        <Scatter zIndex={20} data={navyPoints.map(toXY)} shape={plus('#000080', 7, 5)} isAnimationActive={false} />

        {line(greenTrend, '#00f000', 9, 'gt', 30)}
        {line(blueTrend, '#0080ff', 9, 'bt', 30)}

        <Scatter zIndex={40} data={footData} shape={plus('#8b0000', 7, 5)} isAnimationActive={false} />
        <Scatter zIndex={50} data={stemData(coreStems)} shape={NoMark} isAnimationActive={false}>
          <ErrorBar zIndex={50} dataKey="drop" direction="y" width={0} stroke="#000" strokeWidth={14} isAnimationActive={false} />
        </Scatter>
        <Scatter zIndex={50} data={stemData(denseStems)} shape={NoMark} isAnimationActive={false}>
          <ErrorBar zIndex={50} dataKey="drop" direction="y" width={0} stroke="#000" strokeWidth={14} isAnimationActive={false} />
        </Scatter>
        <Scatter zIndex={50} data={stemData(footStems)} shape={NoMark} isAnimationActive={false}>
          <ErrorBar zIndex={50} dataKey="drop" direction="y" width={0} stroke="#000" strokeWidth={5} isAnimationActive={false} />
        </Scatter>
        <Scatter zIndex={50} data={stemData(tallStems)} shape={NoMark} isAnimationActive={false}>
          <ErrorBar zIndex={50} dataKey="drop" direction="y" width={0} stroke="#000" strokeWidth={5} isAnimationActive={false} />
        </Scatter>

        <Scatter zIndex={60} data={tipData} shape={plus('#76ff00', 7, 5)} isAnimationActive={false} />
        <Scatter zIndex={60} data={limePoints.map(toXY)} shape={plus('#76ff00', 7, 5)} isAnimationActive={false} />

        {line(zAxis, RUST, 4, 'az', 70)}
        {line(yAxisLine, RUST, 3.5, 'ay', 70)}
        {line(xAxisLine, RUST, 4.5, 'ax', 70)}
        {arrowTips.map((t, i) => (
          <Scatter key={`tip${i}`} zIndex={70} data={[toXY(t)]} shape={arrow(arrowOutlines[i])} isAnimationActive={false} />
        ))}
        {axisNames.map((n, i) => (
          <ReferenceDot
            key={n}
            x={axisNameAt[i][0]}
            y={axisNameAt[i][1]}
            r={0}
            stroke="none"
            label={{ value: n, position: 'center', fontSize: 48, fontFamily: 'DejaVu Sans', fill: ['#1c1c1c', '#c8691f', '#2f7fb8'][i] }}
          />
        ))}
      </ScatterChart>
    </div>
  );
}
